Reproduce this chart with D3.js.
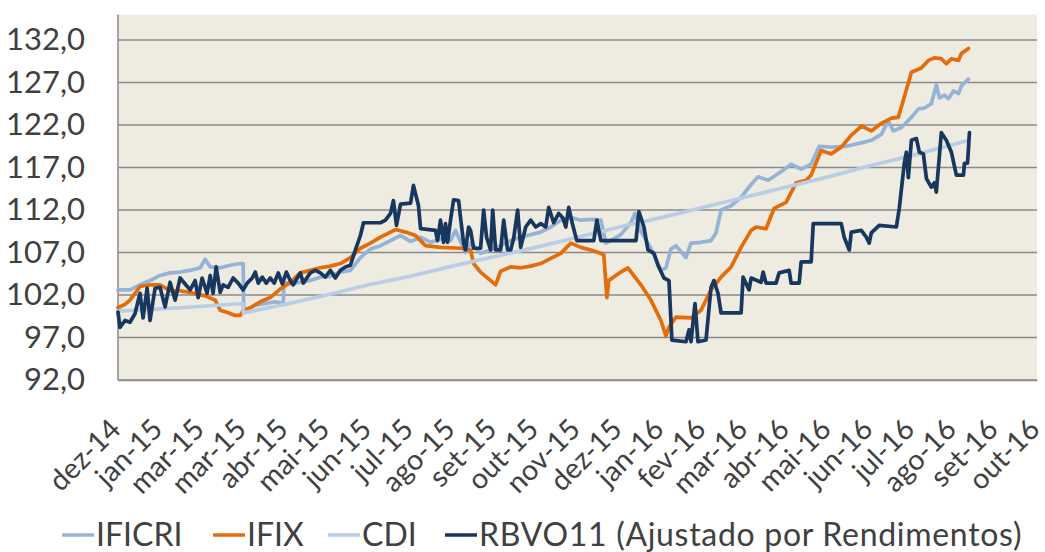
<!DOCTYPE html>
<html>
<head>
<meta charset="utf-8">
<script src="https://cdn.jsdelivr.net/npm/d3@7"></script>
<style>
  body { margin: 0; background: #fff; }
  svg text { font-family: Lato, "Open Sans", sans-serif; fill: #404040; }
</style>
</head>
<body>
<svg id="chart"></svg>
<script>
const width = 1045,
    height = 552;

// eixo x: 30 em 30 dias a partir de 31/12/2014
const tickLabels = ["dez-14", "jan-15", "mar-15", "mar-15", "abr-15", "mai-15", "jun-15", "jul-15", "ago-15",
    "set-15", "out-15", "nov-15", "dez-15", "jan-16", "fev-16", "mar-16", "abr-16", "mai-16", "jun-16",
    "jul-16", "ago-16", "set-16", "out-16"];
const yTicks = [92, 97, 102, 107, 112, 117, 122, 127, 132];

// [dia, valor]
const ificri = [[0,102.6],[8.6,102.6],[15.8,103.2],[23,103.7],[30.2,104.3],[37.4,104.6],[44.6,104.7],[51.8,104.9],
    [59,105.2],[62.6,106.2],[66.2,105.3],[73.4,105.2],[80.6,105.5],[87.8,105.7],[89.9,105.7],[90.3,100.0],
    [98.6,100.8],[105.8,101.0],[112.9,101.2],[118.7,101.0],[119.1,103.5],[123.7,103.3],[130.9,103.5],[138.1,103.7],
    [145.3,104.1],[152.5,104.2],[159.7,104.7],[166.9,104.9],[174.1,106.4],[181.3,107.4],[188.5,107.8],[195.7,108.4],
    [202.9,109.0],[210.1,108.3],[217.3,108.8],[224.5,108.2],[231.6,108.6],[238.8,108.4],[242.4,109.6],[249.6,107.0],
    [253.2,108.1],[260.4,106.9],[267.6,107.3],[274.8,107.8],[282,108.4],[289.2,108.8],[303.6,109.4],[310.8,110.0],
    [318,110.8],[325.2,111.1],[332.4,110.8],[339.6,110.9],[346.8,110.8],[350.3,108.1],[354,108.4],[361.1,109.1],
    [368.3,110.5],[371.2,111.6],[375.5,109.5],[382.7,107.5],[389.9,104.9],[393.5,105.2],[397.1,107.4],[400.7,107.8],
    [407.9,106.4],[411.5,108.1],[418.7,108.2],[425.9,108.4],[429.5,109.3],[433.1,112.0],[440.3,112.5],[447.5,113.5],
    [454.7,115.0],[459.7,115.9],[466.9,115.5],[476.2,116.5],[483.4,117.4],[490.6,116.8],[497.8,117.4],[503.6,119.5],
    [512.2,119.4],[523,119.5],[533.8,119.9],[541,120.2],[548.2,120.9],[553.2,122.5],[556.8,121.3],[562.6,121.7],
    [569.8,122.9],[574.8,123.9],[579.1,124.0],[584.1,124.5],[587.7,126.7],[589.9,125.2],[593.5,125.5],[596.4,125.1],
    [600,126.0],[603.6,125.7],[605.7,126.6],[610.8,127.4]];

const ifix = [[0,100.5],[5,100.9],[8.6,101.4],[15.8,103.0],[23,103.2],[30.2,103.2],[37.4,102.5],[44.6,102.5],
    [51.8,102.3],[62.6,101.9],[69.8,101.4],[73.4,100.2],[79.1,99.9],[84.2,99.6],[87.8,99.6],[89.9,100.2],[95,100.5],
    [102.2,101.2],[109.3,101.7],[116.5,102.7],[123.7,103.5],[130.9,104.6],[138.1,104.9],[145.3,105.2],[152.5,105.4],
    [159.7,105.7],[166.9,106.4],[174.1,107.5],[181.3,108.1],[188.5,108.8],[195.7,109.4],[199.3,109.7],[206.5,109.4],
    [213.7,109.0],[217.3,108.4],[220.9,107.8],[231.6,107.6],[246,107.5],[253.2,107.3],[255.4,105.7],[260.4,104.7],
    [267.6,103.7],[271.2,103.2],[274.8,104.8],[282,105.3],[289.2,105.2],[296.4,105.4],[303.6,105.7],[310.8,106.3],
    [318,106.9],[325.2,108.1],[332.4,107.6],[339.6,107.3],[346.8,106.9],[348.9,106.7],[351.1,101.7],[352.5,103.7],
    [361.1,104.7],[366.2,105.2],[375.5,103.2],[382.7,101.4],[389.9,99.0],[393.5,97.2],[395.7,98.2],[400.7,99.4],
    [411.5,99.3],[418.7,100.2],[425.9,102.6],[433.1,104.1],[440.3,105.3],[447.5,107.6],[454.7,109.6],[458.3,110.0],
    [465.4,109.8],[471.2,112.2],[479.8,112.9],[487,115.2],[494.2,115.5],[497.8,116.1],[501.4,117.6],[505,119.0],
    [512.2,118.6],[519.4,119.4],[526.6,120.8],[530.2,121.3],[533.8,121.9],[541,121.3],[548.2,122.2],[555.4,122.8],
    [560.4,122.9],[564,124.9],[569.8,128.2],[576.9,128.7],[582,129.6],[586.3,129.9],[591.3,129.8],[594.9,129.2],
    [598.5,129.8],[603.6,129.6],[605.7,130.4],[610.8,131.0]];

const cdi = [[0,100.1],[45,100.5],[89.5,101.0],[90,99.9],[120,100.9],[150,102.0],[180,103.2],[210,104.2],
    [240,105.4],[270,106.5],[300,107.6],[330,108.8],[360,110.0],[390,111.1],[420,112.3],[450,113.5],[480,114.7],
    [510,115.9],[540,117.2],[570,118.4],[600,119.7],[611,120.2]];

const rbvo11 = [[0,100.0],[1.4,98.2],[5,99.0],[8.6,98.8],[12.2,99.8],[15.8,102.2],[18,99.3],[20.9,102.8],[23,99.0],
    [26.6,102.8],[30.2,102.9],[33.8,100.6],[37.4,103.5],[41,101.4],[44.6,104.0],[48.2,103.3],[51.8,102.6],[55.4,103.7],
    [57.6,101.7],[60.4,104.0],[64,102.2],[66.2,104.3],[68.3,102.2],[70.5,105.3],[73.4,102.3],[75.5,103.2],[79.1,102.9],
    [82.7,104.0],[86.3,103.4],[89.9,102.6],[92.8,103.4],[96.4,104.0],[98.6,104.7],[100.7,103.4],[103.6,104.1],
    [106.5,103.4],[109.3,104.0],[112.2,103.4],[115.1,104.6],[118,103.3],[120.9,104.7],[123.7,103.7],[125.9,103.2],
    [130.9,104.6],[133.1,103.4],[138.1,104.6],[141.7,104.9],[145.3,104.6],[148.9,104.1],[152.5,104.9],[156.1,104.0],
    [159.7,104.9],[163.3,105.3],[166.9,105.5],[170.5,107.3],[174.1,109.0],[176.3,110.5],[188.5,110.5],[192.1,110.8],
    [195.7,111.6],[197.8,113.1],[200,110.2],[202.9,112.7],[210.1,112.8],[212.2,114.9],[215.8,112.5],[217.3,109.8],
    [228,109.6],[229.5,108.4],[231.6,110.8],[233.8,108.2],[235.2,110.4],[236.7,108.2],[238.8,110.8],[241,113.2],
    [244.6,113.1],[246,111.1],[248.2,108.1],[249.6,107.3],[251.8,110.0],[253.2,109.6],[255.4,107.5],[260.4,107.5],
    [262.6,112.0],[264.7,108.8],[267.6,107.3],[269.1,112.0],[271.2,107.3],[274.8,107.3],[277,110.8],[279.8,107.3],
    [282,107.3],[284.2,108.7],[287,112.0],[289.2,107.6],[292.8,110.0],[296.4,110.8],[300,110.0],[303.6,110.4],
    [307.2,110.0],[309.3,112.3],[312.9,110.5],[316.5,111.6],[319.4,111.1],[321.6,110.0],[323.7,112.3],[326.6,110.2],
    [329.5,108.4],[341.7,108.4],[343.9,110.8],[346.8,108.4],[372,108.4],[374.1,111.8],[377.7,110.0],[380.6,107.3],
    [384.9,106.9],[387.8,105.5],[392.1,104.0],[395.7,103.7],[397.8,96.7],[407.9,96.5],[410.1,97.9],[411.5,96.5],
    [414.4,101.0],[416.5,96.5],[422.3,96.7],[425.9,102.9],[428,103.7],[430.9,102.2],[433.1,99.9],[447.5,99.9],
    [448.9,104.1],[453.2,102.6],[454.7,104.0],[461.8,103.5],[463.3,104.7],[465.4,103.4],[472.6,103.4],[474.8,104.6],
    [482,104.9],[483.4,103.4],[489.2,103.4],[490.6,105.9],[497.8,105.9],[499.3,110.4],[519.4,110.4],[521.5,108.8],
    [525.2,107.3],[526.6,109.4],[533.8,109.6],[537.4,108.8],[539.5,108.1],[541,109.3],[546.7,110.2],[559,110.0],
    [561.1,112.2],[564.7,117.5],[566.2,118.8],[567.6,115.8],[569.8,120.2],[573.4,120.4],[575.5,118.8],[578.4,118.6],
    [580.6,115.7],[584.1,114.7],[586.3,115.2],[587.7,114.1],[591.3,121.1],[594.9,120.2],[598.5,118.8],[602.1,116.1],
    [607.2,116.1],[607.9,117.5],[610.1,117.5],[611.5,121.1]];

const series = [
    { name: "IFICRI", values: ificri, color: "#95b3d7" },
    { name: "IFIX", values: ifix, color: "#e46c0a" },
    { name: "CDI", values: cdi, color: "#b9cde5" },
    { name: "RBVO11 (Ajustado por Rendimentos)", values: rbvo11, color: "#17375e" },
];

const plot = { left: 118, right: 1037, top: 14.5, bottom: 380 };

const svg = d3.select("svg#chart")
    .attr("width", width)
    .attr("height", height);

const x = d3.scaleLinear()
    .domain([0, (tickLabels.length - 1) * 30])
    .range([plot.left, plot.right]);
const y = d3.scaleLinear()
    .domain([92, 135])
    .range([plot.bottom, plot.top]);

svg.append("rect")
    .attr("x", plot.left)
    .attr("y", plot.top)
    .attr("width", plot.right - plot.left)
    .attr("height", plot.bottom - plot.top)
    .attr("fill", "#eeebe1");

// grade horizontal
svg.append("g")
    .selectAll("line")
    .data(yTicks)
    .enter()
    .append("line")
    .attr("x1", plot.left)
    .attr("x2", plot.right)
    .attr("y1", d => y(d))
    .attr("y2", d => y(d))
    .attr("stroke", "#8a8a8a")
    .attr("stroke-width", 1.5);

svg.append("line")
    .attr("x1", plot.left)
    .attr("x2", plot.left)
    .attr("y1", plot.top)
    .attr("y2", plot.bottom)
    .attr("stroke", "#8a8a8a")
    .attr("stroke-width", 1.5);

const yAxis = svg.append("g")
    .attr("transform", `translate(${plot.left},0)`)
    .call(d3.axisLeft(y)
        .tickValues(yTicks)
        .tickSize(0)
        .tickPadding(33)
        .tickFormat(d => d.toFixed(1).replace(".", ",")));
yAxis.select(".domain").remove();
yAxis.selectAll("text")
    .style("font-size", "31px")
    .attr("fill", "#404040");

const xAxis = svg.append("g")
    .attr("transform", `translate(0,${plot.bottom})`)
    .call(d3.axisBottom(x)
        .tickValues(d3.range(0, tickLabels.length * 30, 30))
        .tickSize(0)
        .tickFormat((d, i) => tickLabels[i]));
xAxis.select(".domain").attr("stroke", "#8a8a8a").attr("stroke-width", 1.5);
xAxis.selectAll("text")
    .style("font-size", "28.5px")
    .attr("fill", "#404040")
    .attr("text-anchor", "end")
    .attr("dy", 0)
    .attr("y", 0)
    .attr("transform", "translate(4,51) rotate(-45)");

const line = d3.line()
    .x(d => x(d[0]))
    .y(d => y(d[1]));

svg.append("g")
    .selectAll("path")
    .data(series)
    .enter()
    .append("path")
    .attr("d", d => line(d.values))
    .attr("fill", "none")
    .attr("stroke", d => d.color)
    .attr("stroke-width", 3.7)
    .attr("stroke-linejoin", "round")
    .attr("stroke-linecap", "round");

// legenda
const legendX = [62, 213, 328, 445];
const legendSpacing = [0, 0, 0, 0.7];
const legend = svg.append("g")
    .selectAll("g")
    .data(series)
    .enter()
    .append("g")
    .attr("transform", (d, i) => `translate(${legendX[i]},535)`);
legend.append("line")
    .attr("x1", 0)
    .attr("x2", 32)
    .attr("stroke", d => d.color)
    .attr("stroke-width", 3.5);
legend.append("text")
    .attr("x", 34)
    .attr("y", 10.5)
    .style("font-size", "32px")
    .style("letter-spacing", (d, i) => legendSpacing[i] + "px")
    .text(d => d.name);
</script>
</body>
</html>
